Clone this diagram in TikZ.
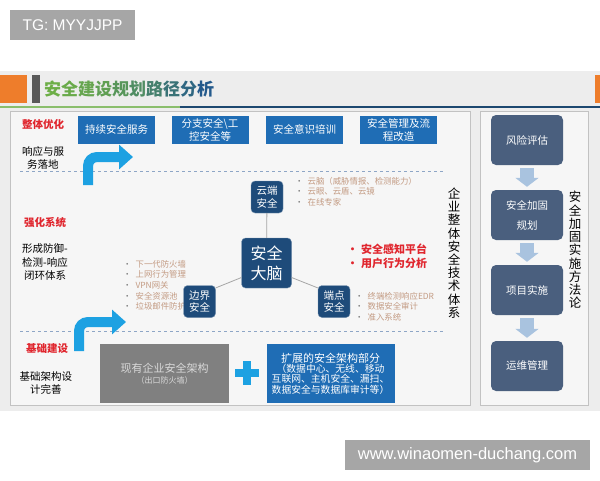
\documentclass[tikz,border=0pt]{standalone}
\usepackage{fontspec}
\setmainfont{Noto Sans CJK SC}
\newfontfamily\wmfont{Liberation Sans}
\usetikzlibrary{arrows.meta}
\definecolor{slidebg}{HTML}{EDEDED}
\definecolor{panelbg}{HTML}{F6F6F6}
\definecolor{panelline}{HTML}{C2C2C2}
\definecolor{boxblue}{HTML}{1F6DB5}
\definecolor{darkblue}{HTML}{1E4B7A}
\definecolor{slate}{HTML}{4A5F7E}
\definecolor{skyblue}{HTML}{1DA1E2}
\definecolor{paleblue}{HTML}{A9C3DF}
\definecolor{itemtan}{HTML}{C39B83}
\definecolor{redlabel}{HTML}{E0262E}
\definecolor{orangeblk}{HTML}{EE7D2B}
\definecolor{wmgrey}{HTML}{A6A6A6}
\definecolor{dashblue}{HTML}{8EA6C6}
\definecolor{tgreen}{HTML}{6DAE47}
\definecolor{tblue}{HTML}{245A8C}
\newcommand{\fs}[2] % size, baselineskip in pt
{\fontsize{#1}{#2}\selectfont}
\newcommand{\itm}[1] % bullet item of a small list
{\textcolor{gray}{•}\hspace{4pt}#1}
\newcommand{\tc}[2] % title character with its share of blue
{\textcolor{tblue!#1!tgreen}{#2}}

\begin{document}
\begin{tikzpicture}[x=1pt, y=-1pt,
	topbox/.style={fill=boxblue, text=white, minimum width=77, minimum height=28, align=center, inner sep=1pt, font=\fs{10.5}{13}},
	secbox/.style={fill=darkblue, draw=darkblue!60!white, rounded corners=4pt, text=white, minimum size=32, align=center, inner sep=1pt, font=\fs{10.5}{12.5}},
	stepbox/.style={fill=slate, rounded corners=5pt, text=white, minimum width=72, minimum height=50, align=center, inner sep=1pt, font=\fs{10.5}{20}},
	redlbl/.style={text=redlabel, font=\bfseries\fs{10.5}{13}},
	sidetxt/.style={align=center, font=\fs{10.5}{13}},
	itemlist/.style={text=itemtan, align=left, anchor=north west, inner sep=0pt, font=\fs{8.4}{10.6}},
	linkline/.style={draw=gray!70, line width=0.8pt},
	bendarrow/.style={skyblue, line width=10pt, rounded corners=9pt, -{Triangle[length=14pt, width=24pt]}},
	steparrow/.style={paleblue, line width=14pt, -{Triangle[length=9pt, width=23pt]}, shorten <=3pt, shorten >=3pt},
	vtext/.style={align=center, inner sep=0pt, font=\fs{12.5}{13.2}}]
	% 600 x 480, one unit = one pixel
	\useasboundingbox (0, 0) rectangle (600, 480);
	\fill[white] (0, 0) rectangle (600, 480);
	% watermarks
	\node[fill=wmgrey, text=white, minimum width=125, minimum height=30, font=\wmfont\fs{15.5}{17}] (tg) at (72.5, 25) {TG: MYYJJPP};
	\node[fill=wmgrey, text=white, minimum width=245, minimum height=30, font=\wmfont\fs{16.5}{18}] (url) at (467.5, 455) {www.winaomen-duchang.com};
	% slide and title band
	\fill[slidebg] (0, 71) rectangle (600, 411);
	\fill[orangeblk] (0, 75) rectangle (27, 103);
	\fill[orangeblk] (595, 75) rectangle (600, 103);
	\fill[black!65] (32, 75) rectangle (40, 103);
	\node[anchor=west, inner sep=0pt, font=\bfseries\fs{17}{20}] (title) at (44, 89)
		{\tc{0}{安}\tc{5}{全}\tc{10}{建}\tc{18}{设}\tc{28}{规}\tc{40}{划}\tc{55}{路}\tc{70}{径}\tc{85}{分}\tc{100}{析}};
	\draw[tgreen!80!white, line width=1.6pt] (0, 107) -- (180, 107);
	\draw[tblue!80!black, line width=1.6pt] (180, 107) -- (600, 107);
	% panels
	\draw[panelline, fill=panelbg] (10, 111) rectangle (470, 405);
	\draw[panelline, fill=panelbg] (480, 111) rectangle (588, 405);
	\draw[dashblue, dashed, line width=0.7pt] (20, 171) -- (445, 171);
	\draw[dashblue, dashed, line width=0.7pt] (20, 331) -- (445, 331);
	% left labels
	\node[redlbl] (lopt) at (43, 124) {整体优化};
	\node[sidetxt] (topt) at (43, 158) {响应与服\\务落地};
	\node[redlbl] (lsys) at (45, 222) {强化系统};
	\node[sidetxt, font=\fs{10.5}{13.5}] (tsys) at (45, 262) {形成防御-\\检测-响应\\闭环体系};
	\node[redlbl] (lbase) at (47, 349) {基础建设};
	\node[sidetxt, font=\fs{10.5}{12.5}] (tbase) at (46, 383) {基础架构设\\计完善};
	% top row
	\node[topbox] (svc) at (116.5, 129.5) {持续安全服务};
	\node[topbox] (branch) at (210, 129.5) {分支安全\textbackslash 工\\控安全等};
	\node[topbox] (train) at (304.5, 129.5) {安全意识培训};
	\node[topbox] (mgmt) at (398.5, 129.5) {安全管理及流\\程改造};
	% bent arrows
	\draw[bendarrow] (88, 185) -- (88, 157) -- (133, 157);
	\draw[bendarrow] (79, 351) -- (79, 322) -- (126, 322);
	% security brain and its parts
	\node[itemlist] (cloudlist) at (295, 177) {\itm{云脑（威胁情报、检测能力）}\\\itm{云眼、云盾、云镜}\\\itm{在线专家}};
	\node[itemlist] (borderlist) at (123, 260) {\itm{下一代防火墙}\\\itm{上网行为管理}\\\itm{VPN网关}\\\itm{安全资源池}\\\itm{垃圾邮件防护}};
	\node[itemlist] (endlist) at (355, 292) {\itm{终端检测响应EDR}\\\itm{数据安全审计}\\\itm{准入系统}};
	\node[itemlist, text=redlabel, font=\bfseries\fs{11}{13.5}] (redlist) at (347, 244) {\textbullet\hspace{3pt}安全感知平台\\\textbullet\hspace{3pt}用户行为分析};
	\node[secbox, minimum size=50, font=\fs{16}{20}] (brain) at (266.5, 263) {安全\\大脑};
	\node[secbox] (cloud) at (267, 197) {云端\\安全};
	\node[secbox] (border) at (199.5, 301.5) {边界\\安全};
	\node[secbox] (endpt) at (334, 301.5) {端点\\安全};
	\draw[linkline] (brain) -- (cloud);
	\draw[linkline] (brain.210) -- (border.40);
	\draw[linkline] (brain.330) -- (endpt.140);
	\node[vtext] (techsys) at (454, 253) {企\\业\\整\\体\\安\\全\\技\\术\\体\\系};
	% base row
	\node[fill=black!50, minimum width=129, minimum height=59, align=center, inner sep=0pt, text=white!85!black] (legacy) at (164.5, 373.5)
		{{\fs{11}{13}现有企业安全架构}\\[-1pt]{\fs{8}{10}（出口防火墙）}};
	\fill[skyblue] (235, 369) rectangle (259, 377);
	\fill[skyblue] (243, 361) rectangle (251, 385);
	\node[fill=boxblue, minimum width=128, minimum height=59, align=center, inner sep=0pt, text=white, font=\fs{9.8}{10.2}] (extend) at (330.5, 373.5)
		{{\fs{11}{12}扩展的安全架构部分}\\（数据中心、无线、移动\\互联网、主机安全、漏扫、\\数据安全与数据库审计等）};
	% method column
	\node[stepbox] (risk) at (527, 140) {风险评估};
	\node[stepbox] (plan) at (527, 215) {安全加固\\规划};
	\node[stepbox] (impl) at (527, 290) {项目实施};
	\node[stepbox] (ops) at (527, 366) {运维管理};
	\draw[steparrow] (risk) -- (plan);
	\draw[steparrow] (plan) -- (impl);
	\draw[steparrow] (impl) -- (ops);
	\node[vtext, font=\fs{12.5}{13.25}] (method) at (575, 250) {安\\全\\加\\固\\实\\施\\方\\法\\论};
\end{tikzpicture}
\end{document}
